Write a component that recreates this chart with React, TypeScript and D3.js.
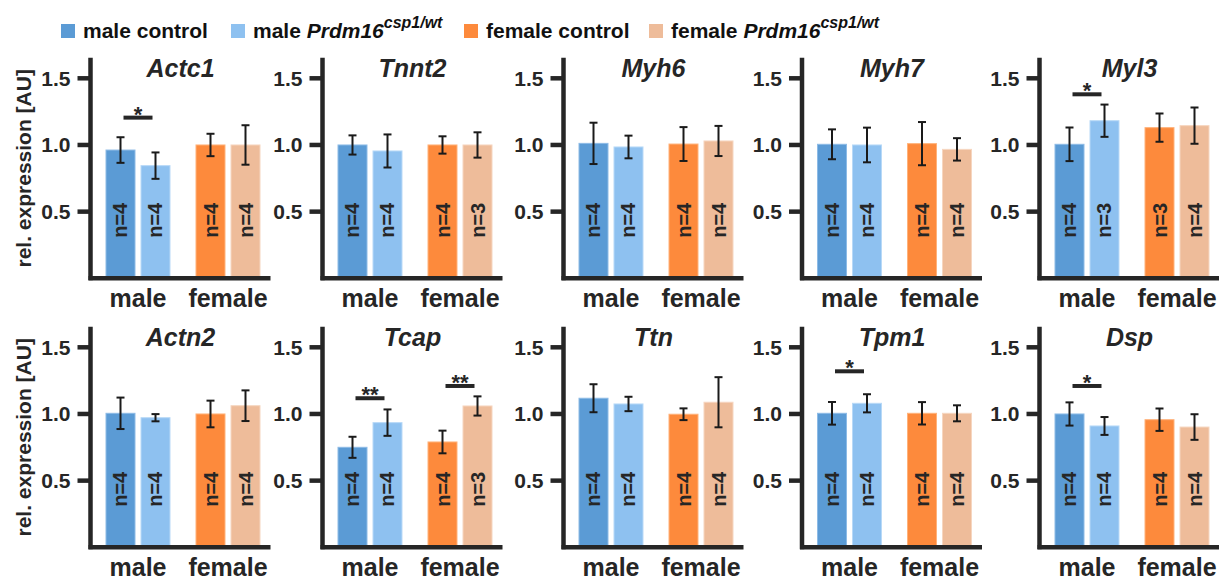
import React from "react";
import * as d3 from "d3";

// ---------- data ----------
const genes = ["Actc1", "Tnnt2", "Myh6", "Myh7", "Myl3", "Actn2", "Tcap", "Ttn", "Tpm1", "Dsp"];
const groups = ["male", "female"];
const seriesKeys = ["male control", "male Prdm16", "female control", "female Prdm16"];
// means per gene: [male control, male Prdm16, female control, female Prdm16]
const means: number[][] = [
  [0.962, 0.845, 1.0, 1.0],
  [1.0, 0.955, 1.0, 1.0],
  [1.012, 0.985, 1.007, 1.03],
  [1.005, 1.0, 1.01, 0.967],
  [1.005, 1.182, 1.13, 1.145],
  [1.005, 0.972, 1.0, 1.062],
  [0.75, 0.935, 0.79, 1.06],
  [1.118, 1.075, 0.998, 1.088],
  [1.005, 1.08, 1.005, 1.005],
  [1.0, 0.91, 0.957, 0.902],
];
const errors: number[][] = [
  [0.096, 0.099, 0.084, 0.148],
  [0.072, 0.124, 0.065, 0.095],
  [0.155, 0.085, 0.127, 0.113],
  [0.112, 0.13, 0.162, 0.084],
  [0.126, 0.121, 0.106, 0.136],
  [0.118, 0.027, 0.1, 0.115],
  [0.079, 0.099, 0.085, 0.072],
  [0.105, 0.054, 0.044, 0.188],
  [0.085, 0.068, 0.084, 0.06],
  [0.087, 0.067, 0.084, 0.096],
];
const nValues: number[][] = [
  [4, 4, 4, 4],
  [4, 4, 4, 3],
  [4, 4, 4, 4],
  [4, 4, 4, 4],
  [4, 3, 3, 4],
  [4, 4, 4, 4],
  [4, 4, 4, 3],
  [4, 4, 4, 4],
  [4, 4, 4, 4],
  [4, 4, 4, 4],
];
const significance = [
  { gene: "Actc1", group: "male", level: 1.205, label: "*" },
  { gene: "Myl3", group: "male", level: 1.38, label: "*" },
  { gene: "Tcap", group: "male", level: 1.118, label: "**" },
  { gene: "Tcap", group: "female", level: 1.21, label: "**" },
  { gene: "Tpm1", group: "male", level: 1.32, label: "*" },
  { gene: "Dsp", group: "male", level: 1.21, label: "*" },
];
const tickValues = [0.5, 1.0, 1.5];
const yLabel = "rel. expression [AU]";

// ---------- styles ----------
const colors = ["#5b9bd5", "#8ec1f0", "#fd8a3c", "#eebc9a"];
const strokeColors = ["#8dbbe6", "#b8d9f7", "#ffb27a", "#f6d6c0"];
const FONT = "'Liberation Sans', Arial, Helvetica, sans-serif";
const INK = "#262626";

const panelX = [90.5, 322.5, 563.5, 802, 1039.5];
const rowBase = [278.3, 547.3];
const PX_PER_UNIT = 133.33;
const Y_MAX = 1.64;

const legendItems = [
  { x: 61, color: colors[0], main: "male control", italic: "", sup: "" },
  { x: 231, color: colors[1], main: "male ", italic: "Prdm16", sup: "csp1/wt" },
  { x: 464, color: colors[2], main: "female control", italic: "", sup: "" },
  { x: 649, color: colors[3], main: "female ", italic: "Prdm16", sup: "csp1/wt" },
];

function Panel({ gi }: { gi: number }) {
  const row = Math.floor(gi / 5);
  const col = gi % 5;
  const ax = panelX[col];
  const base = rowBase[row];
  const gene = genes[gi];

  const y = d3.scaleLinear().domain([0, Y_MAX]).range([base, base - Y_MAX * PX_PER_UNIT]);
  const xGroup = d3.scaleBand<string>().domain(groups).range([ax + 15, ax + 170]).paddingInner(0.2778).paddingOuter(0);
  const xSeries = d3.scaleBand<string>().domain(["ctrl", "mut"]).range([0, xGroup.bandwidth()]).paddingInner(0.1429).paddingOuter(0);

  const barX = (si: number) => (xGroup(groups[Math.floor(si / 2)]) as number) + (xSeries(si % 2 === 0 ? "ctrl" : "mut") as number);
  const bw = xSeries.bandwidth();

  const sigs = significance.filter((s) => s.gene === gene);

  return (
    <g>
      {/* bars */}
      {seriesKeys.map((k, si) => {
        const m = means[gi][si];
        const x0 = barX(si);
        return (
          <rect key={k} x={x0 + 0.5} y={y(m)} width={bw - 1} height={base - y(m)} fill={colors[si]} stroke={strokeColors[si]} strokeWidth={1} />
        );
      })}
      {/* n labels */}
      {seriesKeys.map((k, si) => {
        const cx = barX(si) + bw / 2;
        const cy = base - 58;
        return (
          <text key={"n" + k} x={0} y={0} transform={`translate(${cx},${cy}) rotate(-90)`} textAnchor="middle" dominantBaseline="central" fontFamily={FONT} fontWeight="bold" fontSize={20} fill={INK}>
            {"n=" + nValues[gi][si]}
          </text>
        );
      })}
      {/* error bars */}
      {seriesKeys.map((k, si) => {
        const m = means[gi][si];
        const e = errors[gi][si];
        const cx = barX(si) + bw / 2;
        return (
          <g key={"e" + k} stroke="#1a1a1a" strokeWidth={2}>
            <line x1={cx} x2={cx} y1={y(m + e)} y2={y(m - e)} />
            <line x1={cx - 4} x2={cx + 4} y1={y(m + e)} y2={y(m + e)} />
            <line x1={cx - 4} x2={cx + 4} y1={y(m - e)} y2={y(m - e)} />
          </g>
        );
      })}
      {/* significance */}
      {sigs.map((s, i) => {
        const gIdx = groups.indexOf(s.group);
        const c1 = barX(gIdx * 2) + bw / 2;
        const c2 = barX(gIdx * 2 + 1) + bw / 2;
        const ly = y(s.level);
        return (
          <g key={"s" + i}>
            <line x1={c1 + 3} x2={c2 - 3} y1={ly} y2={ly} stroke={INK} strokeWidth={4} />
            <text x={(c1 + c2) / 2} y={ly + 4} textAnchor="middle" fontFamily={FONT} fontWeight="bold" fontSize={22} fill={INK}>
              {s.label}
            </text>
          </g>
        );
      })}
      {/* axes */}
      <line x1={ax} x2={ax} y1={y(Y_MAX) - 2} y2={base + 2} stroke={INK} strokeWidth={4.5} />
      <line x1={ax - 2} x2={ax + 180} y1={base} y2={base} stroke={INK} strokeWidth={4.5} />
      {tickValues.map((t) => (
        <g key={"t" + t}>
          <line x1={ax - 13} x2={ax} y1={y(t)} y2={y(t)} stroke={INK} strokeWidth={4.5} />
          <text x={ax - 20} y={y(t)} textAnchor="end" dominantBaseline="central" fontFamily={FONT} fontWeight="bold" fontSize={21} fill={INK}>
            {d3.format(".1f")(t)}
          </text>
        </g>
      ))}
      {/* group labels */}
      {groups.map((g) => (
        <text key={"g" + g} x={(xGroup(g) as number) + xGroup.bandwidth() / 2} y={base + 28.5} textAnchor="middle" fontFamily={FONT} fontWeight="bold" fontSize={25} fill={INK}>
          {g}
        </text>
      ))}
      {/* title */}
      <text x={ax + 90} y={base - 201} textAnchor="middle" fontFamily={FONT} fontWeight="bold" fontStyle="italic" fontSize={25} fill={INK}>
        {gene}
      </text>
      {col === 0 && (
        <text transform={`translate(23,${base - 110}) rotate(-90)`} textAnchor="middle" dominantBaseline="central" fontFamily={FONT} fontWeight="bold" fontSize={21} fill={INK}>
          {yLabel}
        </text>
      )}
    </g>
  );
}

export default function App() {
  return (
    <svg width={1219} height={580} style={{ position: "absolute", left: 0, top: 0, background: "#ffffff" }}>
      <rect x={0} y={0} width={1219} height={580} fill="#ffffff" />
      {legendItems.map((it, i) => (
        <g key={"l" + i}>
          <rect x={it.x} y={24} width={14} height={14} fill={it.color} />
          <text x={it.x + 22} y={38} fontFamily={FONT} fontWeight="bold" fontSize={21} fill="#111">
            {it.main}
            {it.italic && <tspan fontStyle="italic">{it.italic}</tspan>}
            {it.sup && (
              <tspan fontStyle="italic" fontSize={16} dy={-10}>
                {it.sup}
              </tspan>
            )}
          </text>
        </g>
      ))}
      {genes.map((g, gi) => (
        <Panel key={g} gi={gi} />
      ))}
    </svg>
  );
}
